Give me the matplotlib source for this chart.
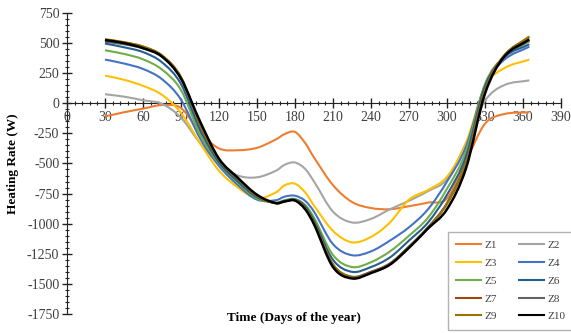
import numpy as np
import matplotlib
matplotlib.use("Agg")
import matplotlib.pyplot as plt
from matplotlib.path import Path
from matplotlib.patches import PathPatch
from matplotlib.lines import Line2D
from matplotlib.ticker import MultipleLocator

plt.rcParams['axes.unicode_minus'] = False
plt.rcParams['font.family'] = ['Liberation Serif', 'DejaVu Serif']

days = [30, 45, 60, 75, 90, 105, 120, 135, 150, 165, 172, 180, 188, 195, 210, 225, 240, 255, 270, 285, 300, 315, 330, 345, 365]

z1 = [-110, -75, -45, -15, -40, -240, -375, -390, -370, -300, -255, -238, -330, -450, -680, -820, -870, -880, -855, -825, -790, -480, -170, -90, -75]
z2 = [75, 55, 25, -5, -120, -330, -500, -600, -615, -560, -510, -492, -545, -650, -900, -990, -960, -880, -810, -730, -630, -330, 20, 150, 190]
z3 = [230, 195, 145, 70, -80, -330, -560, -700, -790, -740, -680, -668, -740, -850, -1060, -1155, -1110, -990, -800, -720, -610, -330, 140, 290, 363]
z4 = [363, 330, 285, 200, 30, -290, -520, -680, -800, -805, -775, -768, -810, -900, -1170, -1262, -1230, -1140, -1030, -880, -650, -360, 150, 360, 470]
z5 = [440, 410, 365, 280, 110, -260, -500, -660, -790, -825, -805, -795, -845, -950, -1260, -1360, -1320, -1230, -1100, -950, -710, -400, 160, 385, 515]
z6 = [496, 465, 425, 340, 160, -220, -490, -650, -780, -828, -810, -800, -855, -975, -1300, -1400, -1360, -1280, -1140, -990, -760, -440, 140, 380, 490]
z7 = [528, 505, 470, 395, 215, -180, -470, -630, -770, -830, -815, -805, -870, -995, -1340, -1445, -1400, -1330, -1190, -1030, -830, -490, 110, 395, 550]
z8 = [510, 490, 455, 385, 205, -180, -470, -630, -770, -830, -815, -805, -870, -995, -1340, -1440, -1400, -1330, -1190, -1030, -830, -490, 110, 390, 520]
z9 = [532, 508, 472, 398, 218, -175, -470, -630, -770, -830, -815, -805, -870, -995, -1340, -1445, -1405, -1335, -1195, -1035, -835, -495, 105, 395, 555]
z10 = [525, 500, 458, 388, 205, -150, -460, -620, -760, -830, -815, -808, -880, -1005, -1360, -1455, -1410, -1340, -1200, -1040, -880, -540, 80, 385, 530]

series = [z1, z2, z3, z4, z5, z6, z7, z8, z9, z10]
names = ['Z1', 'Z2', 'Z3', 'Z4', 'Z5', 'Z6', 'Z7', 'Z8', 'Z9', 'Z10']
colors = ['#ED7D31', '#A5A5A5', '#FFC000', '#4472C4', '#70AD47',
          '#255E91', '#9E480E', '#636363', '#997300', '#000000']

fig = plt.figure(figsize=(5.71, 3.33), dpi=100)
ax = fig.add_axes([0.1173, 0.0571, 0.8652, 0.904])


def smooth_path(x, y):
    x = np.asarray(x, float)
    y = np.asarray(y, float)
    pts = np.column_stack([x, y])
    n = len(pts)
    verts = [pts[0]]
    codes = [Path.MOVETO]
    for i in range(n - 1):
        p0 = pts[i - 1] if i > 0 else pts[i]
        p1 = pts[i]
        p2 = pts[i + 1]
        p3 = pts[i + 2] if i + 2 < n else pts[i + 1]
        # scale tangents to local segment length (non-uniform spacing)
        h = p2[0] - p1[0]
        t1 = (p2 - p0) / (p2[0] - p0[0]) * h if p2[0] != p0[0] else p2 - p1
        t2 = (p3 - p1) / (p3[0] - p1[0]) * h if p3[0] != p1[0] else p2 - p1
        c1 = p1 + t1 / 3.0
        c2 = p2 - t2 / 3.0
        verts += [c1, c2, p2]
        codes += [Path.CURVE4] * 3
    return Path(verts, codes)


handles = {}
for s, name, c in zip(series, names, colors):
    lw = 1.8 if name == 'Z10' else 1.5
    patch = PathPatch(smooth_path(days, s), facecolor='none', edgecolor=c, lw=lw, zorder=3)
    ax.add_patch(patch)
    handles[name] = Line2D([], [], color=c, lw=1.5, label=name)

ax.set_xlim(0, 390)
ax.set_ylim(-1750, 750)

ax.spines['left'].set_position(('data', 0))
ax.spines['bottom'].set_position(('data', 0))
ax.spines['right'].set_visible(False)
ax.spines['top'].set_visible(False)
ax.spines['left'].set_color('#222222')
ax.spines['bottom'].set_color('#222222')

ax.xaxis.set_major_locator(MultipleLocator(30))
ax.xaxis.set_minor_locator(MultipleLocator(6))
ax.yaxis.set_major_locator(MultipleLocator(250))
ax.yaxis.set_minor_locator(MultipleLocator(50))
ax.tick_params(which='major', direction='inout', length=7, width=1, color='#222222',
               labelsize=10, labelcolor='#404040')
ax.tick_params(which='minor', direction='inout', length=3.5, width=0.8, color='#222222')
ax.tick_params(axis='x', pad=2)
ax.tick_params(axis='y', pad=2)

ax.set_ylabel('Heating Rate (W)', fontsize=9.5, fontweight='bold')
ax.yaxis.set_label_coords(-0.098, 0.5)
fig.text(0.515, 0.045, 'Time (Days of the year)', ha='center', va='center',
         fontsize=9.5, fontweight='bold')

# legend filled row-wise: column 1 = odd zones, column 2 = even zones
order = ['Z1', 'Z3', 'Z5', 'Z7', 'Z9', 'Z2', 'Z4', 'Z6', 'Z8', 'Z10']
leg = ax.legend(handles=[handles[k] for k in order], ncol=2, loc='upper left',
                bbox_to_anchor=(0.771, 0.272), borderaxespad=0,
                fontsize=8, frameon=True, fancybox=False, edgecolor='#A0A0A0',
                handlelength=2.2, handletextpad=0.35, columnspacing=2.0,
                labelspacing=0.72, borderpad=0.75)
leg.get_frame().set_linewidth(1.0)
for t in leg.get_texts():
    t.set_color('#404040')

fig.savefig('out.png', dpi=100)
